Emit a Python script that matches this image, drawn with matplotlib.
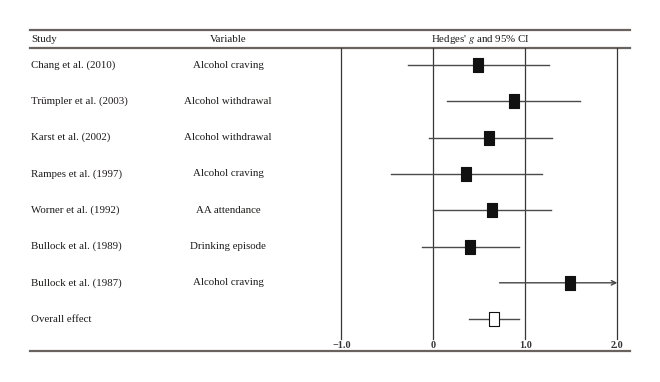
import matplotlib
matplotlib.use('Agg')
import matplotlib.pyplot as plt
import matplotlib.transforms as mtransforms

plt.rcParams['font.family'] = ['Liberation Serif', 'DejaVu Serif']
plt.rcParams['mathtext.fontset'] = 'stix'

studies = ['Chang et al. (2010)', 'Trümpler et al. (2003)', 'Karst et al. (2002)',
           'Rampes et al. (1997)', 'Worner et al. (1992)', 'Bullock et al. (1989)',
           'Bullock et al. (1987)', 'Overall effect']
variables = ['Alcohol craving', 'Alcohol withdrawal', 'Alcohol withdrawal',
             'Alcohol craving', 'AA attendance', 'Drinking episode',
             'Alcohol craving', '']
g = [0.49, 0.88, 0.61, 0.36, 0.64, 0.40, 1.49, 0.66]
ci_low = [-0.27, 0.15, -0.05, -0.46, 0.00, -0.12, 0.72, 0.39]
ci_high = [1.26, 1.59, 1.29, 1.18, 1.28, 0.93, 2.00, 0.93]
ticks = [-1.0, 0.0, 1.0, 2.0]
tick_labels = ['\u22121.0', '0', '1.0', '2.0']

fig = plt.figure(figsize=(6.6, 3.82), dpi=100)
ax = fig.add_axes([0, 0, 1, 1])
ax.axis('off')

# g=0 at px 433, one unit = 92 px; rows every ~36 px
ax.set_xlim(-433.3 / 92, (660 - 433.3) / 92)
row_px0, row_dy = 65.0, 36.3
ax.set_ylim((382 - row_px0) / row_dy, -row_px0 / row_dy)


def ypx(p):
    return (p - row_px0) / row_dy


txt = '#1c1a19'
rule = '#6a625e'
x0, x1 = 30 / 660, 630 / 660
for yy in [30, 48, 351]:
    ax.axhline(ypx(yy), xmin=x0, xmax=x1, color=rule, lw=1.6)

for t, lab in zip(ticks, tick_labels):
    ax.plot([t, t], [ypx(48), ypx(339)], color='#3b3533', lw=0.9)
    ax.text(t, ypx(346), lab, ha='center', va='center',
            fontsize=7.3, fontweight='bold', color='#333')

tr = mtransforms.blended_transform_factory(ax.transAxes, ax.transData)
fs = 7.8
ax.text(31 / 660, ypx(39), 'Study', ha='left', va='center', fontsize=fs, transform=tr, color=txt)
ax.text(228 / 660, ypx(39), 'Variable', ha='center', va='center', fontsize=fs, transform=tr, color=txt)
ax.text(480 / 660, ypx(39), "Hedges' $g$ and 95% CI", ha='center', va='center', fontsize=fs,
        transform=tr, color=txt)

for i, (s, v) in enumerate(zip(studies, variables)):
    ax.text(31 / 660, i, s, ha='left', va='center', fontsize=fs, transform=tr, color=txt)
    if v:
        ax.text(228 / 660, i, v, ha='center', va='center', fontsize=fs, transform=tr, color=txt)

box = [(-0.77, -1), (0.77, -1), (0.77, 1), (-0.77, 1), (-0.77, -1)]
for i in range(len(g)):
    if i == 6:
        ax.annotate('', xy=(ci_high[i], i), xytext=(ci_low[i], i),
                    arrowprops=dict(arrowstyle='->', color='#444', lw=1.0,
                                    shrinkA=0, shrinkB=0, mutation_scale=8))
    else:
        ax.plot([ci_low[i], ci_high[i]], [i, i], color='#4a4a4a', lw=1.0)
    last = i == len(g) - 1
    ax.plot(g[i], i, marker=box, markersize=9.5,
            markerfacecolor='white' if last else '#111',
            markeredgecolor='#111', markeredgewidth=0.8, zorder=3)

fig.savefig('out.png', dpi=100)
